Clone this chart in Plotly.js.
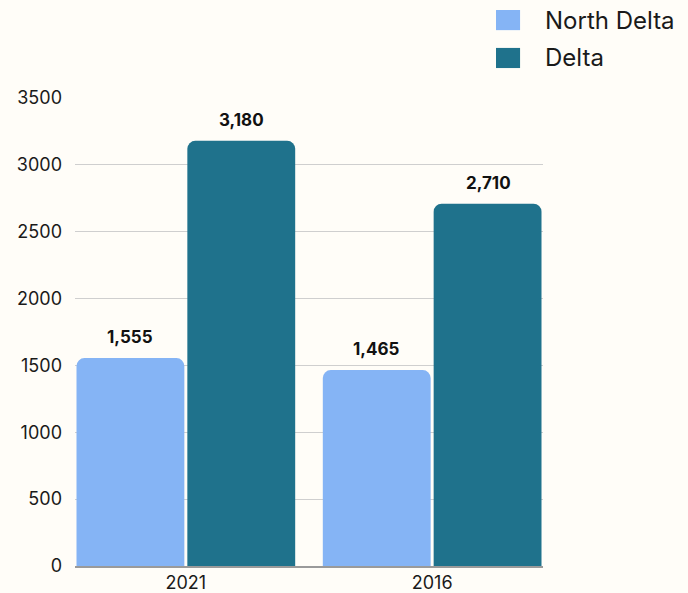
<!DOCTYPE html>
<html>
<head>
<meta charset="utf-8">
<script src="https://cdn.plot.ly/plotly-3.0.1.min.js"></script>
<style>
  html, body { margin: 0; padding: 0; background: #fffdf8; }
  #chart { width: 688px; height: 593px; }
</style>
</head>
<body>
<div id="chart"></div>
<script>
// chart data
var years = ["2021", "2016"];
var northDelta = [1555, 1465];
var delta = [3180, 2710];
var seriesNames = ["North Delta", "Delta"];
var seriesColors = ["#85b4f5", "#1f728c"];
var yTicks = [0, 500, 1000, 1500, 2000, 2500, 3000, 3500];

var font = "Inter, 'DejaVu Sans', sans-serif";

var traces = [northDelta, delta].map(function(vals, k){
  return {
    type: "bar",
    name: seriesNames[k],
    x: years,
    y: vals,
    marker: {color: seriesColors[k], line: {width: 0}},
    showlegend: false,
    hoverinfo: "skip"
  };
});

// value labels above each bar (x as category index)
var annotations = [];
[northDelta, delta].forEach(function(vals, k){
  vals.forEach(function(v, i){
    annotations.push({
      x: i, y: v, xref: "x", yref: "y",
      xshift: k === 0 ? -56 : 56, yshift: 9,
      yanchor: "bottom", showarrow: false,
      text: "<b>" + v.toLocaleString("en-US") + "</b>",
      font: {family: font, size: 17, color: "#111"}
    });
  });
});

// legend built by hand, bigger swatches
var shapes = [];
seriesNames.forEach(function(n, k){
  var yTop = 1.188 - k * 0.081;
  shapes.push({
    type: "rect", xref: "paper", yref: "paper",
    x0: 0.8996, x1: 0.951, y0: yTop - 0.043, y1: yTop,
    fillcolor: seriesColors[k], line: {width: 0}
  });
  annotations.push({
    x: 1.0, y: yTop - 0.0215, xref: "paper", yref: "paper",
    xanchor: "left", yanchor: "middle", showarrow: false,
    text: n, font: {family: font, size: 24, color: "#1a1a1a"}
  });
});

var layout = {
  width: 688, height: 593,
  margin: {l: 75, r: 145, t: 98, b: 27},
  paper_bgcolor: "#fffdf8",
  plot_bgcolor: "#fffdf8",
  barmode: "group",
  bargap: 0.1,
  bargroupgap: 0.027,
  barcornerradius: 8,
  showlegend: false,
  font: {family: font, color: "#222"},
  xaxis: {
    type: "category",
    range: [-0.45, 1.45],
    showgrid: false,
    showline: true, linecolor: "#9a9a9a", linewidth: 1.5,
    ticks: "",
    tickfont: {family: font, size: 18, color: "#1a1a1a"}
  },
  yaxis: {
    range: [0, 3500],
    tickvals: yTicks,
    ticktext: yTicks.map(String),
    showgrid: true, gridcolor: "#cfcfcf", gridwidth: 1,
    zeroline: false,
    ticks: "",
    ticklabelstandoff: 12,
    tickfont: {family: font, size: 18, color: "#1a1a1a"}
  },
  shapes: shapes,
  annotations: annotations
};

Plotly.newPlot("chart", traces, layout, {displayModeBar: false, staticPlot: true});
</script>
</body>
</html>
